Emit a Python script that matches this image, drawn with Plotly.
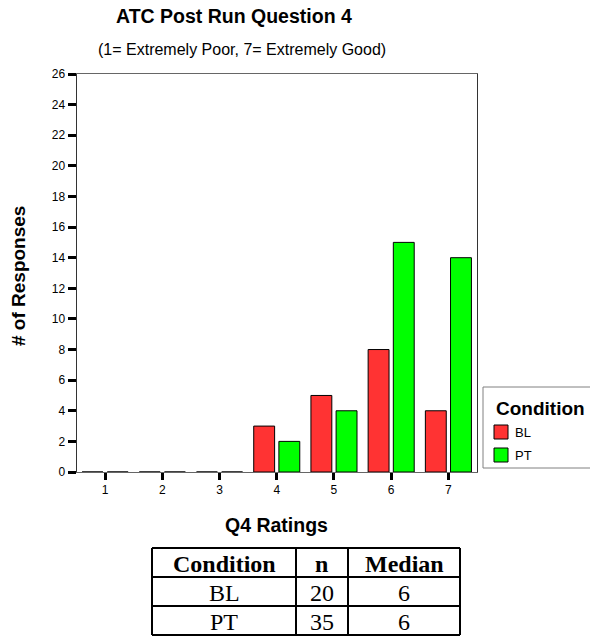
import plotly.graph_objects as go

ratings = [1, 2, 3, 4, 5, 6, 7]
bl_counts = [0, 0, 0, 3, 5, 8, 4]
pt_counts = [0, 0, 0, 2, 4, 15, 14]
y_ticks = list(range(0, 27, 2))
series_names = ["BL", "PT"]
series_colors = ["#FF3333", "#00FF00"]

table_header = ["Condition", "n", "Median"]
table_condition = ["BL", "PT"]
table_n = ["20", "35"]
table_median = ["6", "6"]

W, H = 590, 644


def fx(x):
    return x / W


def fy(y):
    return 1 - y / H


SANS = "Liberation Sans, Arial, sans-serif"
SERIF = "Liberation Serif, Times New Roman, serif"

fig = go.Figure()
for name, vals, col in zip(series_names, [bl_counts, pt_counts], series_colors):
    fig.add_trace(go.Bar(
        x=ratings, y=vals, name=name,
        marker=dict(color=col, line=dict(color="#000000", width=1)),
    ))

annotations = [
    dict(text="<b>ATC Post Run Question 4</b>", x=fx(234), y=fy(16),
         font=dict(size=19.5, family=SANS)),
    dict(text="(1= Extremely Poor, 7= Extremely Good)", x=fx(242), y=fy(50),
         font=dict(size=16, family=SANS)),
    dict(text="<b># of Responses</b>", x=fx(18), y=fy(276), textangle=-90,
         font=dict(size=19, family=SANS)),
    dict(text="<b>Q4 Ratings</b>", x=fx(276), y=fy(525),
         font=dict(size=19.5, family=SANS)),
    dict(text="<b>Condition</b>", x=fx(494), y=fy(409), xanchor="left",
         font=dict(size=19, family=SANS)),
]
shapes = []

# legend box, swatches and labels
shapes.append(dict(type="rect", xref="paper", yref="paper",
                   x0=fx(483), x1=1.1, y0=fy(468), y1=fy(387),
                   line=dict(color="#808080", width=1), fillcolor="white",
                   layer="below"))
leg_rows = [432, 455]
for name, col, yc in zip(series_names, series_colors, leg_rows):
    shapes.append(dict(type="rect", xref="paper", yref="paper",
                       x0=fx(494), x1=fx(508), y0=fy(yc + 7), y1=fy(yc - 7),
                       line=dict(color="black", width=1), fillcolor=col))
    annotations.append(dict(text=name, x=fx(513), y=fy(yc), xanchor="left",
                            font=dict(size=13, family=SANS)))

# summary table drawn with lines and text
col_x = [152, 296, 348, 460]
row_y = [548, 577, 606, 635]
for xv in col_x:
    shapes.append(dict(type="line", xref="paper", yref="paper",
                       x0=fx(xv), x1=fx(xv), y0=fy(row_y[0]), y1=fy(row_y[-1]),
                       line=dict(color="black", width=2)))
for yv in row_y:
    shapes.append(dict(type="line", xref="paper", yref="paper",
                       x0=fx(col_x[0]), x1=fx(col_x[-1]), y0=fy(yv), y1=fy(yv),
                       line=dict(color="black", width=2)))
columns = [table_condition, table_n, table_median]
for ci, head in enumerate(table_header):
    xc = (col_x[ci] + col_x[ci + 1]) / 2
    annotations.append(dict(text="<b>%s</b>" % head, x=fx(xc),
                            y=fy((row_y[0] + row_y[1]) / 2 + 1),
                            font=dict(size=24, family=SERIF)))
    for ri, val in enumerate(columns[ci]):
        annotations.append(dict(text=val, x=fx(xc),
                                y=fy((row_y[ri + 1] + row_y[ri + 2]) / 2 + 1),
                                font=dict(size=24, family=SERIF)))

for a in annotations:
    a.setdefault("xref", "paper")
    a.setdefault("yref", "paper")
    a.setdefault("showarrow", False)
    a.setdefault("xanchor", "center")
    a.setdefault("yanchor", "middle")

fig.update_layout(
    width=W, height=H,
    margin=dict(l=0, r=0, t=0, b=0, autoexpand=False),
    paper_bgcolor="white", plot_bgcolor="white",
    showlegend=False,
    barmode="group", bargap=0.12, bargroupgap=0.17,
    font=dict(family=SANS, color="black"),
    hovermode=False,
    xaxis=dict(
        domain=[fx(76.5), fx(477)], range=[0.5, 7.5], automargin=False,
        tickmode="array", tickvals=ratings, ticktext=[str(r) for r in ratings],
        ticks="outside", ticklen=7, tickwidth=3, tickcolor="black",
        tickfont=dict(size=12, family=SANS),
        showline=True, linecolor="#666666", linewidth=1, mirror=True,
        showgrid=False, zeroline=False, fixedrange=True,
    ),
    yaxis=dict(
        domain=[fy(472), fy(74)], range=[0, 26], automargin=False,
        tickmode="array", tickvals=y_ticks,
        ticks="outside", ticklen=8, tickwidth=3, tickcolor="black",
        tickfont=dict(size=12, family=SANS),
        showline=True, linecolor="#333333", linewidth=1, mirror=True,
        showgrid=False, zeroline=False, fixedrange=True,
    ),
    annotations=annotations,
    shapes=shapes,
)

fig.write_html("out.html",
               config={"displayModeBar": False, "staticPlot": True},
               post_script="document.body.style.margin='0';"
                           "document.body.style.overflow='hidden';")
